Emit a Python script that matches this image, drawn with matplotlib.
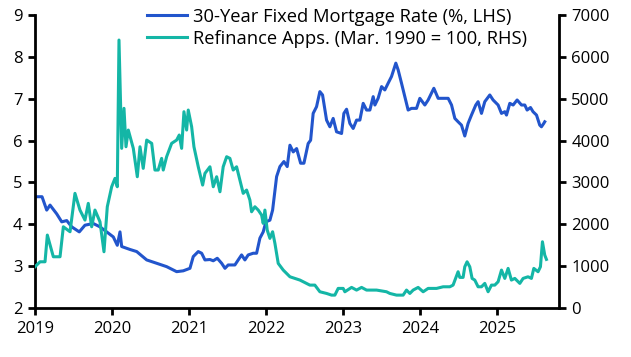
import matplotlib
matplotlib.use("Agg")
import numpy as np
import matplotlib.pyplot as plt

plt.rcParams['font.family'] = ['Open Sans', 'DejaVu Sans']

# 30-year fixed mortgage rate (%), x in years after 2019.0
rate_t = [0.000, 0.091, 0.152, 0.195, 0.282, 0.347, 0.412, 0.477, 0.575, 0.649,
          0.757, 0.844, 0.931, 1.017, 1.069, 1.104, 1.126, 1.234, 1.321, 1.451,
          1.581, 1.710, 1.840, 1.926, 2.013, 2.056, 2.121, 2.165, 2.208, 2.273,
          2.316, 2.368, 2.425, 2.468, 2.510, 2.597, 2.640, 2.684, 2.727, 2.770,
          2.835, 2.879, 2.922, 2.965, 3.000, 3.052, 3.087, 3.139, 3.182, 3.234,
          3.277, 3.312, 3.355, 3.399, 3.451, 3.494, 3.549, 3.581, 3.614, 3.658,
          3.701, 3.736, 3.788, 3.831, 3.874, 3.918, 3.983, 4.013, 4.048, 4.091,
          4.134, 4.178, 4.221, 4.264, 4.308, 4.351, 4.394, 4.416, 4.458, 4.503,
          4.545, 4.588, 4.632, 4.688, 4.718, 4.762, 4.805, 4.848, 4.892, 4.957,
          5.000, 5.065, 5.108, 5.182, 5.238, 5.303, 5.368, 5.412, 5.455, 5.497,
          5.541, 5.584, 5.627, 5.671, 5.727, 5.757, 5.801, 5.844, 5.909, 5.952,
          6.017, 6.061, 6.104, 6.126, 6.169, 6.212, 6.264, 6.321, 6.364, 6.394,
          6.438, 6.471, 6.516, 6.558, 6.580, 6.610, 6.623]
rate_v = [4.66, 4.66, 4.34, 4.46, 4.25, 4.06, 4.09, 3.94, 3.82, 3.98,
          4.02, 3.94, 3.82, 3.70, 3.50, 3.82, 3.47, 3.40, 3.35, 3.15,
          3.07, 2.99, 2.87, 2.89, 2.95, 3.23, 3.35, 3.31, 3.15, 3.16,
          3.13, 3.19, 3.07, 2.95, 3.03, 3.03, 3.15, 3.27, 3.15, 3.27,
          3.31, 3.31, 3.67, 3.82, 4.06, 4.10, 4.34, 5.14, 5.38, 5.50,
          5.38, 5.89, 5.73, 5.81, 5.46, 5.46, 5.93, 6.01, 6.65, 6.81,
          7.17, 7.09, 6.49, 6.33, 6.53, 6.21, 6.17, 6.65, 6.75, 6.41,
          6.29, 6.49, 6.49, 6.89, 6.73, 6.73, 7.05, 6.85, 7.01, 7.29,
          7.21, 7.37, 7.53, 7.85, 7.69, 7.37, 7.05, 6.73, 6.77, 6.77,
          7.01, 6.85, 6.97, 7.25, 7.01, 7.01, 7.01, 6.85, 6.53, 6.45,
          6.37, 6.11, 6.41, 6.61, 6.85, 6.93, 6.65, 6.93, 7.09, 6.97,
          6.85, 6.65, 6.69, 6.61, 6.89, 6.85, 6.97, 6.85, 6.85, 6.73,
          6.79, 6.69, 6.61, 6.37, 6.33, 6.41, 6.45]

# refinance applications index (Mar. 1990 = 100)
refi_t = [0.000, 0.065, 0.130, 0.160, 0.238, 0.325, 0.368, 0.455, 0.519, 0.584,
          0.649, 0.692, 0.736, 0.779, 0.844, 0.896, 0.939, 0.996, 1.039, 1.069,
          1.091, 1.126, 1.156, 1.182, 1.212, 1.277, 1.329, 1.364, 1.406, 1.451,
          1.516, 1.558, 1.601, 1.645, 1.666, 1.710, 1.775, 1.840, 1.874, 1.905,
          1.935, 1.970, 1.991, 2.035, 2.065, 2.121, 2.178, 2.208, 2.273, 2.316,
          2.360, 2.403, 2.445, 2.490, 2.532, 2.575, 2.619, 2.662, 2.705, 2.749,
          2.792, 2.814, 2.857, 2.900, 2.944, 2.965, 2.987, 3.017, 3.052, 3.087,
          3.117, 3.160, 3.225, 3.312, 3.442, 3.571, 3.636, 3.701, 3.788, 3.853,
          3.896, 3.939, 4.004, 4.026, 4.113, 4.178, 4.243, 4.308, 4.438, 4.567,
          4.610, 4.697, 4.783, 4.827, 4.870, 4.913, 4.978, 5.043, 5.108, 5.217,
          5.303, 5.390, 5.432, 5.497, 5.519, 5.562, 5.584, 5.614, 5.649, 5.679,
          5.714, 5.757, 5.801, 5.844, 5.887, 5.931, 5.974, 6.017, 6.061, 6.104,
          6.147, 6.190, 6.234, 6.299, 6.342, 6.406, 6.450, 6.481, 6.536, 6.567,
          6.593, 6.623, 6.645]
refi_v = [987, 1106, 1106, 1744, 1226, 1226, 1942, 1823, 2740, 2341,
          2102, 2501, 1942, 2341, 2062, 1345, 2420, 2898, 3098, 2898,
          6402, 3815, 4771, 3853, 4252, 3815, 3137, 3853, 3337, 4013,
          3934, 3297, 3297, 3576, 3297, 3615, 3934, 4013, 4133, 3815,
          4690, 4252, 4730, 4331, 3853, 3375, 2938, 3218, 3375, 2898,
          3137, 2778, 3375, 3615, 3576, 3297, 3375, 3058, 2740, 2819,
          2580, 2301, 2420, 2341, 2222, 2023, 2341, 1863, 1665, 1823,
          1546, 1068, 908, 748, 669, 549, 549, 390, 350, 310,
          310, 470, 470, 390, 494, 430, 494, 430, 430, 390,
          350, 310, 310, 430, 350, 430, 494, 390, 470, 470,
          509, 509, 549, 868, 733, 733, 987, 1106, 987, 709,
          669, 509, 509, 590, 390, 549, 549, 629, 908, 709,
          948, 669, 709, 590, 709, 748, 709, 948, 868, 987,
          1584, 1266, 1163]

years = [2019, 2020, 2021, 2022, 2023, 2024, 2025]

blue = '#2255cc'
teal = '#14b6a6'

fig = plt.figure(figsize=(6.31, 3.57), dpi=100)
ax = fig.add_axes([0.0555, 0.137, 0.830, 0.821])
ax2 = ax.twinx()

l1, = ax.plot(2019 + np.array(rate_t), rate_v, color=blue, lw=2.2,
              label='30-Year Fixed Mortgage Rate (%, LHS)')
l2, = ax2.plot(2019 + np.array(refi_t), refi_v, color=teal, lw=2.2,
               label='Refinance Apps. (Mar. 1990 = 100, RHS)')

ax.set_xlim(2019, 2025.805)
ax.set_ylim(2, 9)
ax2.set_ylim(0, 7000)
ax.set_xticks(years)
ax.set_xticklabels([str(y) for y in years])
ax.set_yticks(range(2, 10))
ax2.set_yticks(range(0, 7001, 1000))

for a in (ax, ax2):
    a.spines['top'].set_visible(False)
    for s in a.spines.values():
        s.set_linewidth(2)
    a.tick_params(width=2, length=5, labelsize=12, colors='black', pad=4)
ax.spines['right'].set_visible(False)
ax2.spines['left'].set_visible(False)
ax2.spines['bottom'].set_visible(False)

leg = ax2.legend(handles=[l1, l2], loc='upper left', bbox_to_anchor=(0.2, 1.05),
                 frameon=False, fontsize=13.2, handlelength=2.2,
                 handletextpad=0.3, labelspacing=0.22, borderaxespad=0)

fig.savefig('out.png', dpi=100)
